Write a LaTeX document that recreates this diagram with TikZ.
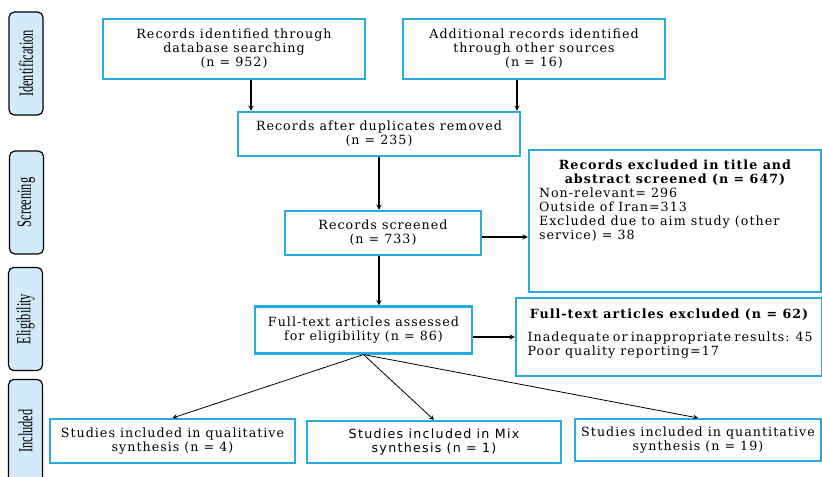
\documentclass[tikz,border=0pt]{standalone}
\usepackage{fontspec}
\setmainfont{DejaVu Serif}[LetterSpace=8]
\newfontfamily\stagefont{Liberation Serif}
\newfontfamily\mixfont{DejaVu Sans}[LetterSpace=10]
\usepackage{graphicx}
\usepackage{xcolor}
\usepackage{tikz}
\definecolor{prismablue}{RGB}{41,171,226}
\definecolor{stagefill}{RGB}{210,235,249}
\tikzstyle{stage} = [rectangle, rounded corners=4pt, rotate=90, minimum width=77.25pt,
minimum height=25.5pt, inner sep=0pt, draw=black, line width=0.9pt, fill=stagefill,
font=\stagefont\fontsize{15}{15}\selectfont]
\tikzstyle{record} = [rectangle, minimum height=33pt, text centered, align=center, draw=prismablue,
line width=1.6pt, inner sep=0pt, font=\fontsize{9.5}{10.5}\selectfont]
\tikzstyle{arrow} = [thick,->,>=stealth]

\begin{document}
\begin{tikzpicture}[x=0.75pt, y=-0.75pt]
        \useasboundingbox (0,0) rectangle (822,477);
        % stages on the left
        \node (ident) [stage] at (26,63.5) {\scalebox{0.62}[1]{Identification}};
        \node (screen) [stage] at (26.5,202.5) {\scalebox{0.62}[1]{Screening}};
        \node (elig) [stage] at (25.5,319) {\scalebox{0.62}[1]{Eligibility}};
        \node (incl) [stage] at (25.5,431) {\scalebox{0.62}[1]{Included}};
        % records
        \node (db) [record, minimum width=196.5pt, minimum height=45pt] at (234,49) {Records identified through\\database searching\\(n = 952)};
        \node (other) [record, minimum width=196.5pt, minimum height=45pt] at (534,49) {Additional records identified\\through other sources\\(n = 16)};
        \node (dup) [record, minimum width=211.5pt] at (379,134) {Records after duplicates removed\\(n = 235)};
        \node (scr) [record, minimum width=147pt] at (383,233) {Records screened\\(n = 733)};
        \node (excl1) [record, minimum width=219pt, minimum height=106.5pt] at (675,221) {\parbox[t][95.5pt][t]{204pt}{%
                \vspace*{2pt}
                {\centering\bfseries Records excluded in title and\\abstract screened (n = 647)\par}
                Non-relevant= 296\\
                Outside of Iran=313\\
                Excluded due to aim study (other\\
                service) = 38}};
        \node (full) [record, minimum width=162.75pt, minimum height=35.25pt] at (363.5,330) {Full-text articles assessed\\for eligibility (n = 86)};
        \node (excl2) [record, minimum width=229.5pt, minimum height=58.5pt] at (669,337) {\parbox[t][48pt][t]{212pt}{%
                \vspace*{3pt}
                {\centering\bfseries Full-text articles excluded (n = 62)\par}
                \vspace{7pt}
                Inadequate or inappropriate results: 45\\
                Poor quality reporting=17}};
        % included studies
        \node (qual) [record, minimum width=183.75pt] at (172.5,441) {Studies included in qualitative\\synthesis (n = 4)};
        \node (mix) [record, minimum width=190.5pt, minimum height=31.5pt, font=\mixfont\fontsize{9.5}{10.5}\selectfont] at (434,442) {Studies included in Mix\\synthesis (n = 1)};
        \node (quant) [record, minimum width=184.5pt, minimum height=31.5pt] at (698,440) {Studies included in quantitative\\synthesis (n = 19)};
        % arrows
        \draw [arrow] ([xshift=12.75pt]db.south) -- ([xshift=12.75pt]db.south |- dup.north);
        \draw [arrow] ([xshift=-12.75pt]other.south) -- ([xshift=-12.75pt]other.south |- dup.north);
        \draw [arrow] (dup.south) -- (dup.south |- scr.north);
        \draw [arrow] ([yshift=-3pt]scr.east) -- ([yshift=-3pt]scr.east -| excl1.west);
        \draw [arrow] (dup.south |- scr.south) -- (dup.south |- full.north);
        \draw [arrow] ([yshift=-5.25pt]full.east) -- ([yshift=-5.25pt]full.east -| excl2.west);
        \draw [arrow, semithick] (full.south) -- (qual.north);
        \draw [arrow, semithick] (full.south) -- (mix.north);
        \draw [arrow, semithick] (full.south) -- (quant.north);
    \end{tikzpicture}
\end{document}
